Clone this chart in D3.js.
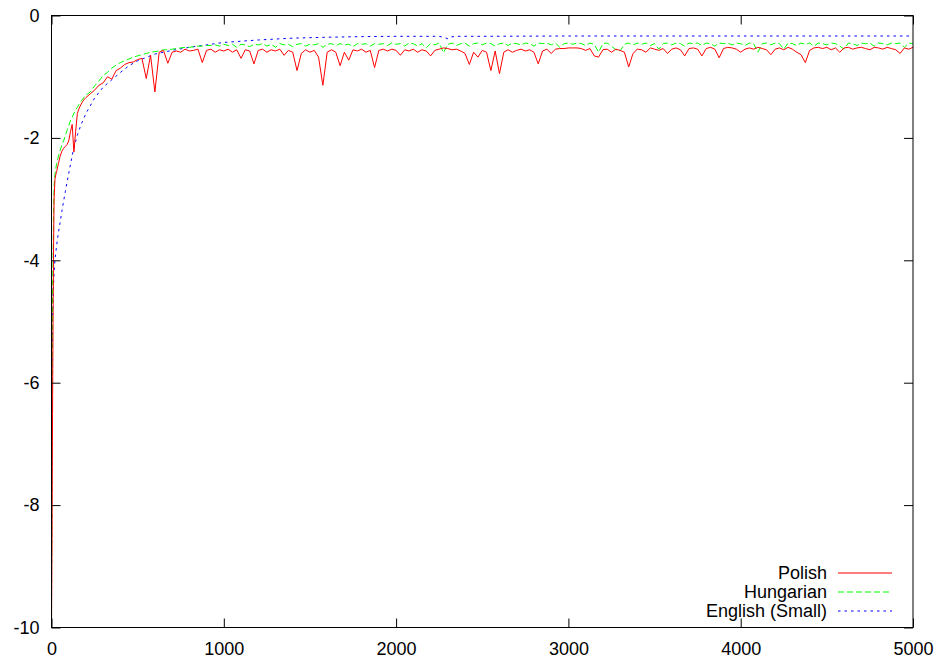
<!DOCTYPE html>
<html>
<head>
<meta charset="utf-8">
<script src="https://cdn.jsdelivr.net/npm/d3@7"></script>
<style>
  html, body { margin: 0; padding: 0; background: #fff; }
  svg { display: block; }
  text { font-family: "Liberation Sans", Arial, Helvetica, sans-serif; font-size: 18px; fill: #000; }
</style>
</head>
<body>
<svg id="chart" width="942" height="658"></svg>
<script>
// ---------------- DATA ----------------
const xTicks = [0, 1000, 2000, 3000, 4000, 5000];
const yTicks = [0, -2, -4, -6, -8, -10];
const seriesNames = ["Polish", "Hungarian", "English (Small)"];

// shared sample positions for Polish and Hungarian
const sampleX = [
  0, 3, 6, 9, 12, 15, 20, 25, 30,
  40, 50, 60, 70, 80, 90, 100, 110, 120, 130, 140, 150, 160, 170, 180, 190, 200,
  225, 250, 275, 300, 325, 350, 375, 400,
  425, 450, 475, 500, 525, 550, 575, 600,
  625, 650, 675, 700, 725, 750, 775, 800,
  825, 850, 875, 900, 925, 950, 975, 1000,
  1025, 1050, 1075, 1100, 1125, 1150, 1175, 1200,
  1225, 1250, 1275, 1300, 1325, 1350, 1375, 1400,
  1425, 1450, 1475, 1500, 1525, 1550, 1575, 1600,
  1625, 1650, 1675, 1700, 1725, 1750, 1775, 1800,
  1825, 1850, 1875, 1900, 1925, 1950, 1975, 2000,
  2025, 2050, 2075, 2100, 2125, 2150, 2175, 2200,
  2225, 2250, 2275, 2300, 2325, 2350, 2375, 2400,
  2425, 2450, 2475, 2500, 2525, 2550, 2575, 2600,
  2625, 2650, 2675, 2700, 2725, 2750, 2775, 2800,
  2825, 2850, 2875, 2900, 2925, 2950, 2975, 3000,
  3025, 3050, 3075, 3100, 3125, 3150, 3175, 3200,
  3225, 3250, 3275, 3300, 3325, 3350, 3375, 3400,
  3425, 3450, 3475, 3500, 3525, 3550, 3575, 3600,
  3625, 3650, 3675, 3700, 3725, 3750, 3775, 3800,
  3825, 3850, 3875, 3900, 3925, 3950, 3975, 4000,
  4025, 4050, 4075, 4100, 4125, 4150, 4175, 4200,
  4225, 4250, 4275, 4300, 4325, 4350, 4375, 4400,
  4425, 4450, 4475, 4500, 4525, 4550, 4575, 4600,
  4625, 4650, 4675, 4700, 4725, 4750, 4775, 4800,
  4825, 4850, 4875, 4900, 4925, 4950, 4975, 5000
];

const polishY = [
  -10, -8.5, -6.5, -5.0, -3.8, -3.0, -2.68, -2.6, -2.55,
  -2.42, -2.3, -2.22, -2.17, -2.14, -2.11, -2.05, -1.9, -1.78, -2.23, -1.9, -1.6, -1.52, -1.46, -1.41, -1.37, -1.34,
  -1.28, -1.22, -1.14, -1.1, -1.0, -1.04, -0.9, -0.86,
  -0.8, -0.77, -0.76, -0.72, -0.7, -1.03, -0.65, -1.25,
  -0.6, -0.57, -0.78, -0.6, -0.58, -0.6, -0.55, -0.58,
  -0.57, -0.55, -0.77, -0.57, -0.55, -0.6, -0.56, -0.58,
  -0.55, -0.6, -0.56, -0.7, -0.56, -0.58, -0.79, -0.57,
  -0.55, -0.6, -0.56, -0.58, -0.55, -0.65, -0.57, -0.6,
  -0.9, -0.62, -0.56, -0.6, -0.57, -0.68, -1.14, -0.6,
  -0.56, -0.6, -0.82, -0.6, -0.73, -0.56, -0.58, -0.55,
  -0.6, -0.57, -0.85, -0.57, -0.55, -0.58, -0.55, -0.57,
  -0.65, -0.56, -0.58, -0.55, -0.6, -0.56, -0.58, -0.66,
  -0.57, -0.55, -0.53, -0.54, -0.56, -0.55, -0.58, -0.62,
  -0.8, -0.6, -0.68, -0.57, -0.6, -0.9, -0.58, -0.95,
  -0.6, -0.56, -0.6, -0.57, -0.55, -0.58, -0.56, -0.6,
  -0.79, -0.58, -0.55, -0.62, -0.55, -0.54, -0.54, -0.53,
  -0.53, -0.53, -0.54, -0.57, -0.54, -0.66, -0.68, -0.56,
  -0.55, -0.6, -0.55, -0.57, -0.6, -0.84, -0.62, -0.55,
  -0.56, -0.6, -0.53, -0.55, -0.57, -0.54, -0.62, -0.55,
  -0.53, -0.56, -0.66, -0.54, -0.53, -0.55, -0.66, -0.54,
  -0.52, -0.55, -0.69, -0.54, -0.52, -0.53, -0.55, -0.6,
  -0.55, -0.53, -0.55, -0.52, -0.54, -0.56, -0.64, -0.55,
  -0.53, -0.56, -0.52, -0.55, -0.6, -0.64, -0.77, -0.57,
  -0.53, -0.52, -0.54, -0.52, -0.56, -0.53, -0.6, -0.53,
  -0.52, -0.55, -0.53, -0.52, -0.54, -0.56, -0.52, -0.53,
  -0.55, -0.52, -0.54, -0.56, -0.62, -0.53, -0.55, -0.52
];

const hungarianY = [
  -10, -7, -4.6, -4.0, -3.2, -2.8, -2.6, -2.5, -2.42,
  -2.3, -2.2, -2.12, -2.05, -1.97, -1.88, -1.8, -1.72, -1.66, -1.6, -1.54, -1.5, -1.45, -1.41, -1.37, -1.33, -1.3,
  -1.25, -1.15, -1.07, -0.98, -0.93, -0.86, -0.81, -0.77,
  -0.74, -0.71, -0.68, -0.66, -0.64, -0.62, -0.6, -0.59,
  -0.58, -0.56, -0.56, -0.55, -0.54, -0.53, -0.52, -0.52,
  -0.51, -0.5, -0.5, -0.49, -0.49, -0.48, -0.5, -0.47,
  -0.49, -0.47, -0.52, -0.47, -0.48, -0.51, -0.47, -0.48,
  -0.46, -0.5, -0.47, -0.52, -0.46, -0.48, -0.47, -0.51,
  -0.47, -0.46, -0.5, -0.47, -0.48, -0.46, -0.52, -0.47,
  -0.46, -0.49, -0.46, -0.48, -0.47, -0.51, -0.46, -0.47,
  -0.46, -0.5, -0.46, -0.47, -0.46, -0.49, -0.45, -0.47,
  -0.46, -0.5, -0.45, -0.46, -0.5, -0.46, -0.53, -0.46,
  -0.48, -0.45, -0.61, -0.47, -0.45, -0.49, -0.46, -0.45,
  -0.5, -0.46, -0.45, -0.48, -0.45, -0.46, -0.5, -0.46,
  -0.45, -0.49, -0.45, -0.46, -0.48, -0.45, -0.46, -0.5,
  -0.45, -0.46, -0.45, -0.48, -0.45, -0.52, -0.46, -0.45,
  -0.47, -0.45, -0.46, -0.49, -0.45, -0.47, -0.6, -0.46,
  -0.45, -0.5, -0.56, -0.58, -0.47, -0.45, -0.48, -0.45,
  -0.47, -0.45, -0.49, -0.46, -0.55, -0.46, -0.45, -0.48,
  -0.45, -0.46, -0.5, -0.45, -0.46, -0.45, -0.49, -0.45,
  -0.46, -0.5, -0.45, -0.46, -0.45, -0.48, -0.45, -0.46,
  -0.49, -0.45, -0.46, -0.6, -0.46, -0.45, -0.48, -0.45,
  -0.46, -0.55, -0.45, -0.46, -0.49, -0.45, -0.47, -0.45,
  -0.5, -0.45, -0.46, -0.48, -0.45, -0.46, -0.5, -0.55,
  -0.45, -0.46, -0.49, -0.45, -0.46, -0.45, -0.5, -0.45,
  -0.46, -0.48, -0.45, -0.46, -0.45, -0.52, -0.45, -0.46
];

const englishX = [
  0, 2, 4, 6, 10, 15, 20, 30, 40, 50,
  60, 80, 100, 125, 150, 175, 200, 250, 300, 350,
  400, 450, 500, 600, 700, 800, 900, 1000, 1200, 1400,
  1600, 1800, 2000, 2250, 2280, 2300, 2320, 2350, 2500, 3000,
  3500, 4000, 4500, 5000
];
const englishY = [
  -10, -7.5, -5.8, -5.0, -4.5, -4.2, -4.0, -3.75, -3.55, -3.38,
  -3.2, -2.88, -2.58, -2.22, -1.95, -1.76, -1.6, -1.35, -1.17, -1.05,
  -0.93, -0.82, -0.74, -0.63, -0.57, -0.52, -0.48, -0.44, -0.4, -0.37,
  -0.355, -0.345, -0.34, -0.34, -0.36, -0.38, -0.35, -0.34, -0.34, -0.335,
  -0.335, -0.335, -0.335, -0.335
];

// ---------------- CHART ----------------
const svg = d3.select("#chart");
const L = 51.5, R = 913, T = 15.5, B = 627.5;

const x = d3.scaleLinear().domain([0, 5000]).range([L, R]);
const y = d3.scaleLinear().domain([-10, 0]).range([B, T]);

svg.append("defs").append("clipPath").attr("id", "clip")
  .append("rect").attr("x", L).attr("y", T).attr("width", R - L).attr("height", B - T);

const series = [
  { name: seriesNames[0], xs: sampleX, ys: polishY, color: "#ff0000", dash: "none" },
  { name: seriesNames[1], xs: sampleX, ys: hungarianY, color: "#00ff00", dash: "6,3" },
  { name: seriesNames[2], xs: englishX, ys: englishY, color: "#0000ff", dash: "2.5,4" }
];

const line = d3.line().x(d => x(d[0])).y(d => y(d[1]));

const plot = svg.append("g").attr("clip-path", "url(#clip)");
series.slice().reverse().forEach(s => {
  const pts = s.xs.map((v, i) => [v, s.ys[i]]);
  plot.append("path")
    .datum(pts)
    .attr("d", line)
    .style("fill", "none")
    .style("stroke", s.color)
    .style("stroke-width", 1)
    .style("stroke-dasharray", s.dash);
});

// Axes (gnuplot style: inward ticks, mirrored)
const tickLen = 9;
const fmt = d => String(d);
const axB = svg.append("g").attr("transform", `translate(0,${B})`)
  .call(d3.axisBottom(x).tickValues(xTicks).tickSize(-tickLen).tickPadding(20).tickFormat(fmt));
const axT = svg.append("g").attr("transform", `translate(0,${T})`)
  .call(d3.axisTop(x).tickValues(xTicks).tickSize(-tickLen).tickFormat(""));
const axL = svg.append("g").attr("transform", `translate(${L},0)`)
  .call(d3.axisLeft(y).tickValues(yTicks).tickSize(-tickLen).tickPadding(12).tickFormat(fmt));
const axR = svg.append("g").attr("transform", `translate(${R},0)`)
  .call(d3.axisRight(y).tickValues(yTicks).tickSize(-tickLen).tickFormat(""));

[axB, axT, axL, axR].forEach(a => {
  a.select(".domain").remove();
  a.selectAll(".tick line").attr("stroke", "#000").attr("stroke-width", 1);
  a.selectAll("text").attr("font-size", 18).attr("font-family", "Liberation Sans, Arial, sans-serif").attr("fill", "#000");
});
axB.selectAll("text").attr("dy", null).attr("y", 655 - B);

svg.append("rect").attr("x", L).attr("y", T).attr("width", R - L).attr("height", B - T)
  .attr("fill", "none").attr("stroke", "#000").attr("stroke-width", 1);

// Legend
const legY = [573, 592, 611];
const leg = svg.append("g");
series.forEach((s, i) => {
  leg.append("text").attr("x", 827).attr("y", legY[i]).attr("dy", "0.35em")
    .attr("text-anchor", "end").text(s.name);
  leg.append("path")
    .attr("d", `M838,${legY[i]}H892`)
    .style("fill", "none").style("stroke", s.color).style("stroke-width", 1.2)
    .style("stroke-dasharray", s.dash);
});
</script>
</body>
</html>
